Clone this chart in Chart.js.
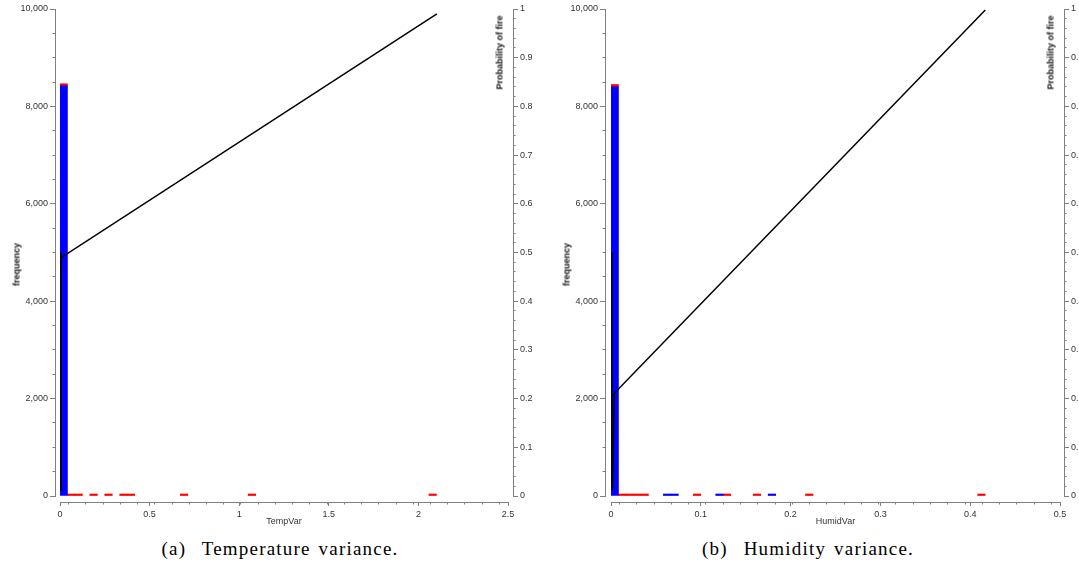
<!DOCTYPE html>
<html><head><meta charset="utf-8">
<script src="https://cdn.jsdelivr.net/npm/chart.js@4.4.1/dist/chart.umd.min.js"></script>
<style>
html,body{margin:0;padding:0;background:#fff;overflow:hidden;width:1079px;height:571px;position:relative;}
.wrap{position:absolute;top:0;}
canvas{display:block;}
.vt{position:absolute;font:bold 9px "Liberation Sans",Arial,sans-serif;color:#111;white-space:nowrap;transform:rotate(-90deg);transform-origin:center center;text-align:center;width:90px;height:11px;line-height:11px;}
.cap{position:absolute;font:19px "Liberation Serif",serif;letter-spacing:1.2px;word-spacing:2px;color:#000;top:538px;line-height:22px;text-align:center;width:400px;white-space:pre;}
</style></head><body>
<div class="wrap" style="left:0;width:545px;height:527px"><canvas id="ca" width="545" height="527"></canvas></div>
<div class="wrap" style="left:550px;width:550px;height:527px"><canvas id="cb" width="550" height="527"></canvas></div>
<div class="vt" style="left:-28px;top:259px">frequency</div>
<div class="vt" style="left:522px;top:259px">frequency</div>
<div class="vt" style="left:455px;top:47px">Probability of fire</div>
<div class="vt" style="left:1006px;top:47px">Probability of fire</div>
<div class="cap" style="left:80px">(a)  Temperature variance.</div>
<div class="cap" style="left:608px">(b)  Humidity variance.</div>
<script>
// ---------- data: (a) Temperature variance ----------
const tempBins      = [0.0208, 0.0625, 0.1042, 0.1875, 0.2708, 0.3542, 0.3958, 0.6925, 1.071, 2.0795];
const tempNoFire    = [8420,   null,   null,   null,   null,   null,   null,   null,   null,  null];
const tempFire      = [45,     20,     20,     10,     10,     15,     15,     10,     8,     5];
const tempProbX     = [0.002, 0.004, 2.103];
const tempProbY     = [0.012, 0.489, 0.990];
const tempSpikeX    = [0.0015, 0.0015];
const tempSpikeY    = [0.012, 0.500];
const tempXLabels   = ['0', '0.5', '1', '1.5', '2', '2.5'];

// ---------- data: (b) Humidity variance ----------
const humBins       = [0.00417, 0.0125, 0.0208, 0.0292, 0.0375, 0.0625, 0.0708, 0.0958, 0.1208, 0.1292, 0.1625, 0.1792, 0.2208, 0.4125];
const humNoFire     = [8400,    null,   null,   null,   null,   10,     10,     null,   10,     null,   null,   10,     null,   null];
const humFire       = [50,      15,     15,     15,     15,     null,   null,   10,     null,   10,     10,     null,   10,     5];
const humProbX      = [0.0015, 0.0037, 0.4168];
const humProbY      = [0.012, 0.211, 0.998];
const humSpikeX     = [0.0005, 0.0005];
const humSpikeY     = [0.012, 0.500];
const humXLabels    = ['0', '0.1', '0.2', '0.3', '0.4', '0.5'];

// ---------- shared axis labels ----------
const freqLabels = ['0', '2,000', '4,000', '6,000', '8,000', '10,000'];
const probLabels = ['0', '0.1', '0.2', '0.3', '0.4', '0.5', '0.6', '0.7', '0.8', '0.9', '1'];

const FONT = '"Liberation Sans", Arial, sans-serif';
const AXIS = '#808080';
const TXT = '#333333';

function pts(xs, ys) {
  const out = [];
  xs.forEach((x, i) => { if (ys[i] !== null) out.push({x: x, y: ys[i]}); });
  return out;
}
// minor tick mark positions
function tickSteps(lo, hi, step) {
  const out = [];
  const n = Math.round((hi - lo) / step);
  for (let i = 0; i <= n; i++) out.push(+(lo + i * step).toFixed(6));
  return out;
}
const num = (s) => Number(s.replace(/,/g, ''));

function makeChart(id, o) {
  const border = {display: true, color: AXIS, width: 1};
  const tickFont = {family: FONT, size: 9};
  const setTicks = (vals) => (s) => { s.ticks = vals.map(v => ({value: v})); };
  const majorGrid = (len) => ({drawOnChartArea: false, drawTicks: true, tickLength: len, color: AXIS});
  const minor = (axis, position, min, max, vals, len, isH) => ({
    type: 'linear', axis: axis, position: position, min: min, max: max,
    grid: {drawOnChartArea: false, drawTicks: true, tickLength: len, color: AXIS, offset: false},
    border: {display: false},
    afterBuildTicks: setTicks(vals),
    ticks: {display: false, autoSkip: false},
    afterFit: (s) => { if (isH) { s.height = 0; s.paddingLeft = 0; s.paddingRight = 0; } else { s.width = 0; s.paddingTop = 0; s.paddingBottom = 0; } }
  });
  // axes in the original stand a few pixels away from the plot area
  const detach = {
    id: 'detach',
    afterLayout(chart) {
      const s = chart.scales;
      s.y.left -= o.yGap; s.y.right -= o.yGap;
      s.yMinor.left = s.y.left; s.yMinor.right = s.y.right;
      s.y2.left += o.y2Gap; s.y2.right += o.y2Gap;
      s.y2Minor.left = s.y2.left; s.y2Minor.right = s.y2.right;
      s.x.top += 6; s.x.bottom += 6;
      s.xMinor.top = s.x.top; s.xMinor.bottom = s.x.bottom;
    }
  };
  new Chart(document.getElementById(id), {
    type: 'bar',
    data: {
      datasets: [
        {type: 'line', data: pts(o.spikeX, o.spikeY), xAxisID: 'x', yAxisID: 'y2', borderColor: '#000', borderWidth: 2.5, pointRadius: 0, order: 0, borderCapStyle: 'butt'},
        {type: 'line', data: pts(o.probX, o.probY), xAxisID: 'x', yAxisID: 'y2', borderColor: '#000', borderWidth: 1.5, pointRadius: 0, order: 0, tension: 0},
        {label: 'no fire', data: pts(o.bins, o.noFire), backgroundColor: '#0000ff', borderWidth: 0, xAxisID: 'x', yAxisID: 'y', order: 1, minBarLength: 2},
        {label: 'fire', data: pts(o.bins, o.fire), backgroundColor: '#ff0000', borderWidth: 0, xAxisID: 'x', yAxisID: 'y', order: 1, minBarLength: 2}
      ]
    },
    plugins: [detach],
    options: {
      responsive: false,
      animation: false,
      devicePixelRatio: 1,
      layout: {padding: {top: 9, left: 0, right: 0, bottom: 0}},
      datasets: {bar: {categoryPercentage: 1, barPercentage: 1}},
      plugins: {legend: {display: false}, tooltip: {enabled: false}},
      scales: {
        x: {
          type: 'linear', axis: 'x', position: 'bottom', stacked: true, offset: false,
          min: 0, max: o.xMax,
          grid: Object.assign(majorGrid(4), {offset: false}), border: border,
          afterBuildTicks: setTicks(o.xLabels.map(num)),
          ticks: {autoSkip: false, maxRotation: 0, minRotation: 0, padding: 3, color: TXT, font: tickFont,
            callback: (v, i) => o.xLabels[i]},
          title: {display: true, text: o.xTitle, color: TXT, font: {family: FONT, size: 9}, padding: {top: 0, bottom: 5.6}},
          afterFit: (s) => { s.height = 31; s.paddingLeft = 0; s.paddingRight = 0; }
        },
        xMinor: minor('x', 'bottom', 0, o.xMax, tickSteps(0, o.xMax, o.xStep), 2.5, true),
        y: {
          type: 'linear', axis: 'y', position: 'left', stacked: true,
          min: 0, max: 10000,
          grid: majorGrid(5), border: border,
          afterBuildTicks: setTicks(freqLabels.map(num)),
          ticks: {autoSkip: false, padding: 2, color: TXT, font: tickFont,
            callback: (v, i) => freqLabels[i]},
          afterFit: (s) => { s.width = o.leftW; s.paddingTop = 0; s.paddingBottom = 0; }
        },
        yMinor: minor('y', 'left', 0, 10000, tickSteps(0, 10000, 500), 2.5, false),
        y2: {
          type: 'linear', axis: 'y', position: 'right', stacked: false,
          min: 0, max: 1,
          grid: majorGrid(5), border: border,
          afterBuildTicks: setTicks(probLabels.map(num)),
          ticks: {autoSkip: false, padding: 2, color: TXT, font: tickFont,
            callback: (v, i) => probLabels[i]},
          afterFit: (s) => { s.width = o.rightW; s.paddingTop = 0; s.paddingBottom = 0; }
        },
        y2Minor: minor('y', 'right', 0, 1, tickSteps(0, 1, 0.02), 2.5, false)
      }
    }
  });
}

makeChart('ca', {bins: tempBins, noFire: tempNoFire, fire: tempFire, probX: tempProbX, probY: tempProbY,
  spikeX: tempSpikeX, spikeY: tempSpikeY, xLabels: tempXLabels, xTitle: 'TempVar',
  xMax: 2.5, xStep: 0.1, leftW: 60, rightW: 37, yGap: 5, y2Gap: 5});
makeChart('cb', {bins: humBins, noFire: humNoFire, fire: humFire, probX: humProbX, probY: humProbY,
  spikeX: humSpikeX, spikeY: humSpikeY, xLabels: humXLabels, xTitle: 'HumidVar',
  xMax: 0.5, xStep: 0.02, leftW: 61, rightW: 40, yGap: 6, y2Gap: 4});
</script>
</body></html>
